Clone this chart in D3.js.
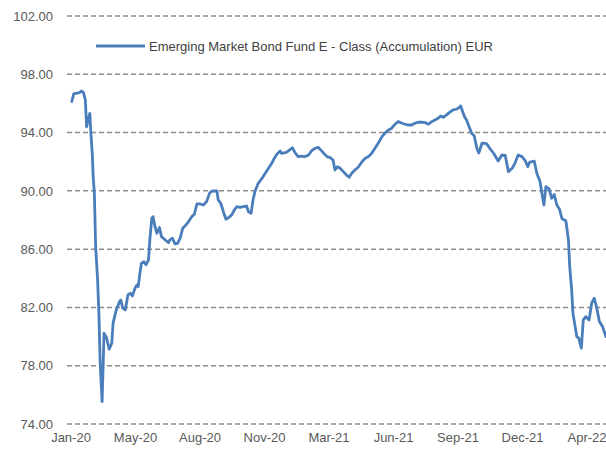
<!DOCTYPE html>
<html lang="en">
<head>
<meta charset="utf-8">
<title>Emerging Market Bond Fund E - Class (Accumulation) EUR</title>
<script src="https://d3js.org/d3.v7.min.js"></script>
<style>
  body { margin: 0; background: #fff; }
  text { font-family: "Liberation Sans", Arial, sans-serif; }
</style>
</head>
<body>
<div id="chart"></div>
<script>

// series name
const seriesName = "Emerging Market Bond Fund E - Class (Accumulation) EUR";

// first day of the series, the x positions are days after this
const startDate = new Date(2020, 0, 30);

// days since startDate
const dayOffsets = [
  2, 5, 10, 14, 17, 20, 23, 25, 28, 30, 31, 34, 35, 37, 39, 42, 44, 46, 49, 52,
  56, 60, 64, 66, 71, 76, 78, 81, 85, 89, 93, 96, 100, 103, 105, 108, 110, 114, 117, 121,
  123, 126, 128, 131, 134, 138, 141, 147, 152, 154, 158, 162, 166, 170, 174, 179, 183, 188, 192, 196,
  201, 206, 211, 216, 220, 227, 229, 233, 237, 241, 245, 250, 254, 258, 263, 268, 273, 276, 280, 283,
  286, 291, 296, 302, 307, 312, 316, 320, 325, 327, 333, 338, 344, 348, 353, 358, 364, 369, 374, 379,
  384, 388, 394, 399, 402, 407, 410, 414, 418, 423, 428, 432, 436, 441, 446, 452, 457, 462, 467, 472,
  477, 483, 488, 493, 498, 503, 508, 514, 519, 524, 529, 534, 539, 545, 550, 555, 560, 565, 570, 574,
  578, 583, 587, 593, 598, 601, 605, 608, 611, 614, 618, 622, 626, 630, 633, 638, 645, 650, 656, 663,
  669, 674, 679, 685, 689, 694, 700, 705, 709, 712, 719, 723, 728, 731, 734, 737, 742, 746, 750, 754,
  758, 762, 768, 772, 774, 777, 779, 782, 785, 788, 792, 795, 799, 804, 808, 812, 816, 820, 825, 830
];

// fund price
const prices = [
  96.12, 96.65, 96.70, 96.74, 96.85, 96.76, 96.24, 94.40, 94.98, 95.32, 94.40, 92.35, 91.09, 89.84, 86.17, 83.89, 81.62, 78.19, 75.54, 80.23,
  79.91, 79.13, 79.54, 80.92, 81.83, 82.40, 82.51, 81.95, 81.83, 82.86, 82.97, 82.79, 83.32, 83.54, 83.43, 84.46, 85.03, 85.14, 84.92, 85.26,
  86.63, 88.12, 88.23, 87.54, 87.09, 87.48, 86.86, 86.63, 86.45, 86.63, 86.75, 86.36, 86.40, 86.75, 87.43, 87.66, 87.89, 88.23, 88.39, 89.10,
  89.10, 89.03, 89.26, 89.88, 89.99, 89.99, 89.38, 89.15, 88.57, 88.05, 88.16, 88.35, 88.69, 88.92, 88.87, 88.92, 88.96, 88.57, 88.46, 89.38,
  89.95, 90.52, 90.80, 91.21, 91.55, 91.89, 92.24, 92.51, 92.74, 92.58, 92.62, 92.74, 92.96, 92.62, 92.35, 92.39, 92.35, 92.46, 92.76, 92.92,
  92.99, 92.81, 92.51, 92.31, 92.31, 92.12, 91.43, 91.66, 91.55, 91.32, 91.09, 90.93, 91.21, 91.43, 91.62, 92.00, 92.24, 92.35, 92.58, 92.92,
  93.27, 93.72, 93.99, 94.18, 94.30, 94.57, 94.75, 94.64, 94.57, 94.52, 94.52, 94.64, 94.71, 94.71, 94.68, 94.57, 94.75, 94.86, 94.98, 95.14,
  95.05, 95.21, 95.37, 95.55, 95.60, 95.67, 95.83, 95.43, 95.09, 94.86, 94.40, 93.95, 93.77, 92.92, 92.60, 93.27, 93.24, 92.92, 92.58, 92.05,
  92.46, 92.43, 91.32, 91.57, 91.89, 92.46, 92.35, 92.07, 91.66, 91.98, 92.04, 91.21, 90.63, 89.79, 89.03, 90.29, 90.13, 89.49, 89.75, 89.03,
  88.76, 88.09, 87.95, 86.63, 84.80, 83.20, 81.60, 80.80, 80.00, 79.89, 79.20, 81.14, 81.37, 81.14, 82.29, 82.63, 81.95, 81.03, 80.68, 80.00
];

// y axis ticks
const yTicks = [74, 78, 82, 86, 90, 94, 98, 102];

// x axis ticks, days after startDate
const xTickDays = [0, 100, 200, 300, 400, 500, 600, 700, 800];

const width = 606, height = 452;

const data = dayOffsets.map((d, i) => ({ date: d3.timeDay.offset(startDate, d), value: prices[i] }));

const svg = d3.select("#chart")
  .append("svg")
    .attr("width", width)
    .attr("height", height);

const x = d3.scaleTime()
  .domain([startDate, d3.timeDay.offset(startDate, 800)])
  .range([70.5, 586.5]);

const y = d3.scaleLinear()
  .domain([74, 102])
  .range([424, 16]);

// horizontal dashed grid lines
svg.append("g")
  .selectAll("line")
  .data(yTicks)
  .enter()
  .append("line")
    .attr("x1", 67)
    .attr("x2", width)
    .attr("y1", d => y(d))
    .attr("y2", d => y(d))
    .attr("stroke", "#8c8c8c")
    .attr("stroke-width", 1.5)
    .attr("stroke-dasharray", "5,3");

// y axis labels
const yAxis = svg.append("g")
  .attr("transform", "translate(53,0)")
  .call(d3.axisLeft(y).tickValues(yTicks).tickFormat(d3.format(".2f")).tickSize(0).tickPadding(0));
yAxis.select(".domain").remove();
yAxis.selectAll("text")
  .attr("fill", "#595959")
  .style("font-size", "13px")
  .style("font-family", "'Liberation Sans', Arial, sans-serif");

// x axis labels
const xAxis = svg.append("g")
  .attr("transform", "translate(0,433)")
  .call(d3.axisBottom(x)
    .tickValues(xTickDays.map(d => d3.timeDay.offset(startDate, d)))
    .tickFormat(d3.timeFormat("%b-%y"))
    .tickSize(0)
    .tickPadding(0));
xAxis.select(".domain").remove();
xAxis.selectAll("text")
  .attr("fill", "#595959")
  .style("font-size", "13px")
  .style("font-family", "'Liberation Sans', Arial, sans-serif");

// the series line
const line = d3.line()
  .x(d => x(d.date))
  .y(d => y(d.value));

svg.append("path")
  .datum(data)
  .attr("fill", "none")
  .attr("stroke", "#4a7ebb")
  .attr("stroke-width", 2.8)
  .attr("stroke-linejoin", "round")
  .attr("stroke-linecap", "round")
  .attr("d", line);

// legend
const legend = svg.append("g").attr("transform", "translate(96,46)");
legend.append("line")
  .attr("x1", 0)
  .attr("x2", 49)
  .attr("stroke", "#4a7ebb")
  .attr("stroke-width", 2.8);
legend.append("text")
  .attr("x", 53)
  .attr("dy", "0.35em")
  .attr("fill", "#404040")
  .style("font-size", "13px")
  .text(seriesName);

</script>
</body>
</html>
